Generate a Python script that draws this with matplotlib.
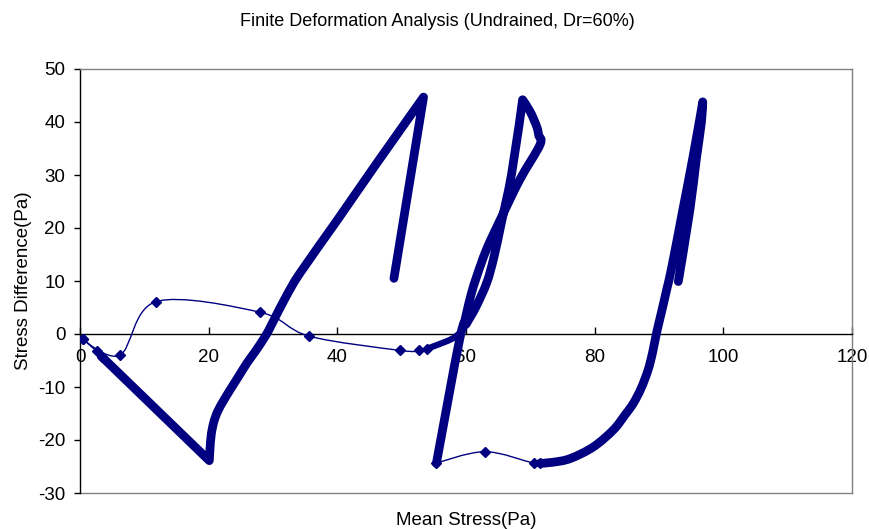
import math
import matplotlib
matplotlib.use('Agg')
import matplotlib.pyplot as plt
from matplotlib.path import Path
from matplotlib.patches import PathPatch
from matplotlib import font_manager

# ---------------- data ----------------
title = "Finite Deformation Analysis (Undrained, Dr=60%)"
xlabel = "Mean Stress(Pa)"
ylabel = "Stress Difference(Pa)"
x_ticks = [0, 20, 40, 60, 80, 100, 120]
y_ticks = [-30, -20, -10, 0, 10, 20, 30, 40, 50]

# sparse (thin, smoothed) parts of the path
thin1_x = [0.4, 6.2, 11.8, 28.0, 35.6, 49.8, 52.7, 53.9]
thin1_y = [-0.9, -4.0, 6.1, 4.1, -0.4, -3.1, -3.1, -2.8]
lead1_x = [0.4, 2.6, 3.4]
lead1_y = [-0.9, -3.3, -4.3]
thin2_x = [55.4, 62.9, 70.6, 71.5]
thin2_y = [-24.4, -22.2, -24.4, -24.4]

# dense parts (markers piled into thick bands)
dense1_x = [53.9, 55.0, 56.5, 58.0, 59.0, 59.6]
dense1_y = [-2.8, -2.3, -1.6, -0.8, 0.2, 1.4]

cyc1_x = [3.4, 20.1, 20.2, 20.4, 20.8, 21.4, 22.3, 23.3, 24.6, 26.0, 27.3, 28.5, 29.2, 30.0, 32.0, 34.2, 40.0, 46.0, 53.4, 48.8]
cyc1_y = [-4.3, -23.9, -21.8, -19.0, -16.6, -14.6, -12.6, -10.6, -8.1, -5.4, -3.2, -1.0, 0.4, 2.3, 7.0, 11.5, 21.5, 32.0, 44.7, 10.5]

cyc2_x = [59.6, 60.1, 60.8, 61.7, 63.2, 65.5, 68.4, 71.5, 71.3, 71.0, 70.0, 68.8, 67.1, 65.5, 64.3, 63.2, 61.5, 60.1, 59.1, 55.4]
cyc2_y = [1.4, 4.0, 7.5, 11.0, 16.0, 22.0, 29.2, 35.7, 37.5, 39.1, 41.9, 44.2, 30.3, 21.0, 14.3, 9.6, 5.0, 2.0, -0.5, -24.4]

cyc3_x = [71.5, 73.5, 76.2, 79.8, 82.9, 84.7, 86.0, 87.2, 88.3, 89.0, 89.6, 90.4, 91.2, 92.0, 93.7, 95.3, 96.8, 96.6, 95.8, 94.8, 93.0]
cyc3_y = [-24.4, -24.2, -23.5, -21.3, -18.1, -15.3, -13.1, -10.3, -6.8, -3.5, 0.1, 4.2, 8.4, 12.7, 23.4, 33.5, 43.8, 40.0, 33.0, 23.4, 9.9]

NAVY = '#000080'
GRAY = '#808080'

# ---------------- fonts ----------------
names = {f.name for f in font_manager.fontManager.ttflist}
if 'Liberation Sans Narrow' in names:
    FAM = ['Liberation Sans Narrow', 'DejaVu Sans']
    FS, FT = 14.5, 14.5
else:
    FAM = ['Liberation Sans', 'DejaVu Sans']
    FS, FT = 13.5, 13
plt.rcParams['font.family'] = FAM

# aspect of one data unit in pixels (used only to detect sharp corners)
SX, SY = 772 / 120.0, 424 / 80.0


def smooth_path(xs, ys, corner_deg=None):
    """Excel-like smoothed line: cubic Bezier through the given points.
    Points where the line turns more than corner_deg are kept sharp."""
    pts = list(zip(xs, ys))
    n = len(pts)

    def is_corner(i):
        if corner_deg is None or i <= 0 or i >= n - 1:
            return False
        ax_, ay_ = (pts[i][0] - pts[i - 1][0]) * SX, (pts[i][1] - pts[i - 1][1]) * SY
        bx_, by_ = (pts[i + 1][0] - pts[i][0]) * SX, (pts[i + 1][1] - pts[i][1]) * SY
        na, nb = math.hypot(ax_, ay_), math.hypot(bx_, by_)
        if na == 0 or nb == 0:
            return True
        c = max(-1.0, min(1.0, (ax_ * bx_ + ay_ * by_) / (na * nb)))
        return math.degrees(math.acos(c)) > corner_deg

    def tangent(i):
        if i == 0 or i == n - 1 or is_corner(i):
            return (0.0, 0.0)
        return ((pts[i + 1][0] - pts[i - 1][0]) / 6.0, (pts[i + 1][1] - pts[i - 1][1]) / 6.0)

    verts = [pts[0]]
    codes = [Path.MOVETO]
    for i in range(n - 1):
        p1, p2 = pts[i], pts[i + 1]
        t1, t2 = tangent(i), tangent(i + 1)
        c1 = (p1[0] + t1[0], p1[1] + t1[1])
        c2 = (p2[0] - t2[0], p2[1] - t2[1])
        verts += [c1, c2, p2]
        codes += [Path.CURVE4, Path.CURVE4, Path.CURVE4]
    return Path(verts, codes)


fig = plt.figure(figsize=(8.69, 5.29), dpi=100)
ax = fig.add_axes([80 / 869, 1 - 493 / 529, 772 / 869, 424 / 529])

# thin smoothed connections with markers
for xs, ys in [(thin1_x, thin1_y), (lead1_x, lead1_y), (thin2_x, thin2_y)]:
    ax.add_patch(PathPatch(smooth_path(xs, ys), facecolor='none', edgecolor=NAVY,
                           lw=1.0, zorder=3))
    ax.plot(xs, ys, linestyle='none', marker='D', ms=5, color=NAVY, zorder=4)

# dense bands (piled-up markers)
ax.add_patch(PathPatch(smooth_path(dense1_x, dense1_y, 60), facecolor='none',
                       edgecolor=NAVY, lw=4.5, capstyle='round', joinstyle='round', zorder=4))
for xs, ys in [(cyc1_x, cyc1_y), (cyc2_x, cyc2_y), (cyc3_x, cyc3_y)]:
    ax.add_patch(PathPatch(smooth_path(xs, ys, 60), facecolor='none', edgecolor=NAVY,
                           lw=6.3, capstyle='round', joinstyle='round', zorder=4))

ax.set_xlim(0, 120)
ax.set_ylim(-30, 50)
ax.set_xticks(x_ticks)
ax.set_yticks(y_ticks)
ax.set_xticklabels([str(v) for v in x_ticks])
ax.set_yticklabels([str(v) for v in y_ticks])

ax.spines['bottom'].set_position(('data', 0))
ax.spines['bottom'].set_color('black')
ax.spines['left'].set_color('black')
for s in ('top', 'right'):
    ax.spines[s].set_color(GRAY)
for s in ax.spines.values():
    s.set_linewidth(1.0)
ax.axhline(-30, color=GRAY, lw=1.0, clip_on=False, zorder=2)

ax.tick_params(axis='x', direction='in', length=5, width=1, pad=11, labelsize=FS)
ax.tick_params(axis='y', direction='out', length=4, width=1, pad=6.5, labelsize=FS)

ax.set_xlabel(xlabel, fontsize=FS)
ax.xaxis.set_label_coords(0.5, -0.044)
ax.xaxis.label.set_va('top')
ax.set_ylabel(ylabel, fontsize=FS)
ax.yaxis.set_label_coords(-0.062, 0.5)

fig.text(437 / 869, 1 - 22 / 529, title, ha='center', va='center', fontsize=FT)

fig.savefig('out.png', dpi=100)
